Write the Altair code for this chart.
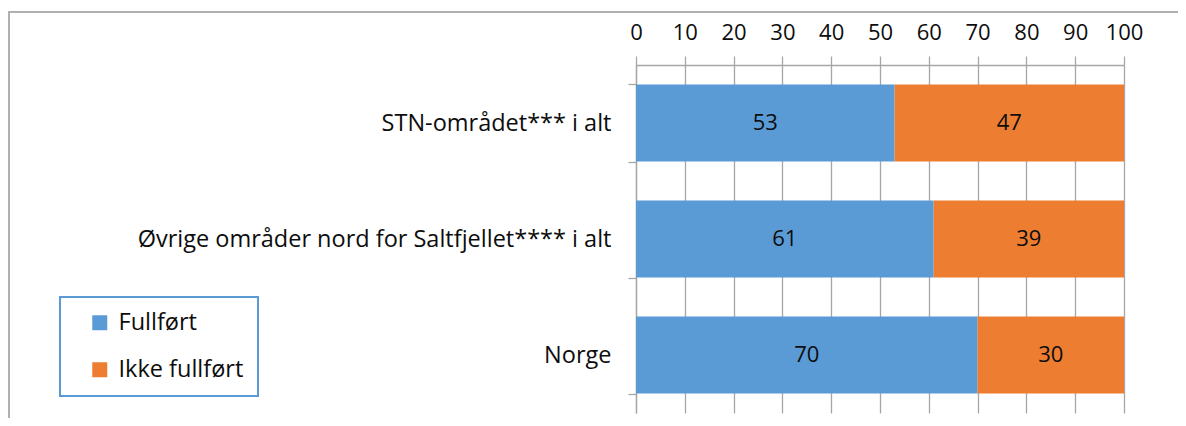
import altair as alt
import pandas as pd

categories = ["STN-området*** i alt", "Øvrige områder nord for Saltfjellet**** i alt", "Norge"]
fullfort = [53, 61, 70]
ikke_fullfort = [47, 39, 30]
series = ["Fullført", "Ikke fullført"]
colors = ["#5b9bd5", "#ed7d31"]
x_ticks = list(range(0, 101, 10))

rows = []
for c, a, b in zip(categories, fullfort, ikke_fullfort):
    rows.append({"kategori": c, "serie": series[0], "verdi": a, "rekke": 0})
    rows.append({"kategori": c, "serie": series[1], "verdi": b, "rekke": 1})
df = pd.DataFrame(rows)

FONT = "Open Sans"
FS_NUM = 22
FS_CAT = 23.5
FS_LEG = 23.5
TXT = "#0d0d0d"
GRID = "#a6a6a6"
W, H = 488, 348

base = alt.Chart(df).transform_stack(
    stack="verdi", groupby=["kategori"], as_=["x0", "x1"], sort=[alt.SortField("rekke")]
).transform_calculate(mid="(datum.x0 + datum.x1) / 2")

y_enc = alt.Y(
    "kategori:N", sort=categories, title=None,
    scale=alt.Scale(paddingInner=0.336, paddingOuter=0.168),
    axis=alt.Axis(
        domain=True, domainColor=GRID, domainWidth=1.3,
        ticks=True, tickColor=GRID, tickSize=8, tickWidth=1.3, tickBand="extent",
        grid=False, labelFont=FONT, labelFontSize=FS_CAT, labelColor=TXT,
        labelPadding=17, labelLimit=700,
    ),
)

bars = base.mark_bar().encode(
    x=alt.X(
        "x0:Q", title=None,
        scale=alt.Scale(domain=[0, 100], nice=False),
        axis=alt.Axis(
            orient="top", values=x_ticks, labelFlush=False, labelAngle=0,
            domain=True, domainColor=GRID, domainWidth=1.3,
            ticks=True, tickColor=GRID, tickSize=9, tickWidth=1.3,
            grid=True, gridColor=GRID, gridWidth=1.3,
            labelFont=FONT, labelFontSize=FS_NUM, labelColor=TXT, labelPadding=11.5,
        ),
    ),
    x2="x1:Q",
    y=y_enc,
    color=alt.Color(
        "serie:N", scale=alt.Scale(domain=series, range=colors),
        legend=alt.Legend(
            title=None, orient="none", legendX=-576, legendY=232,
            padding=14, strokeColor="#5b9bd5", fillColor="#ffffff",
            symbolType="square", symbolSize=225, symbolStrokeWidth=0, symbolOffset=14,
            labelOffset=7, labelFont=FONT, labelFontSize=FS_LEG, labelColor=TXT,
            labelExpr="datum.label + '\u00a0\u00a0'",
            rowPadding=22,
        ),
    ),
    order=alt.Order("rekke:Q"),
)

labels = base.mark_text(font=FONT, fontSize=FS_NUM, color=TXT).encode(
    x=alt.X("mid:Q"),
    y=alt.Y("kategori:N", sort=categories),
    text=alt.Text("verdi:Q"),
)

border = alt.Chart(pd.DataFrame({"a": [0]})).mark_rect(
    fillOpacity=0, stroke="#b0b0b0", strokeWidth=2
).encode(
    x=alt.value(-627), x2=alt.value(W + 80),
    y=alt.value(-53), y2=alt.value(H + 40),
)

chart = alt.layer(border, bars, labels).properties(
    width=W, height=H,
    autosize=alt.AutoSizeParams(type="none"),
    padding={"left": 628, "top": 57, "right": 54, "bottom": 5},
).configure_view(strokeWidth=0).configure_legend(strokeWidth=2)

chart.save("out.html", embed_options={"renderer": "svg", "actions": False})
